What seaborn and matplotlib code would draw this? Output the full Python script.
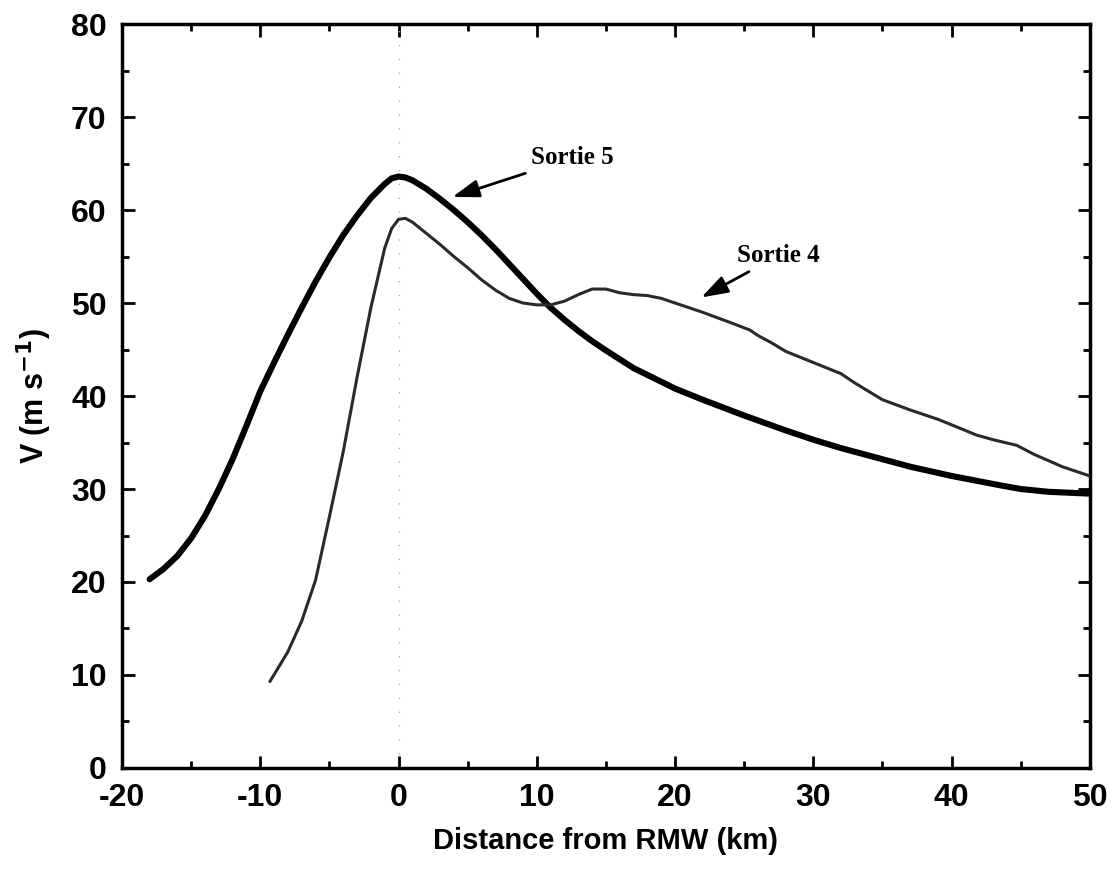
import matplotlib
matplotlib.use("Agg")
import matplotlib.pyplot as plt
import seaborn as sns
import pandas as pd

# Sortie 5 (thick line)
s5_x = [-18, -17, -16, -15, -14, -13, -12, -11, -10, -9, -8, -7, -6, -5, -4, -3, -2, -1, -0.5, 0, 0.5,
        1, 2, 3, 4, 5, 6, 7, 8, 9, 10, 11, 12, 13, 14, 15, 17, 20, 22, 25, 28, 30, 32, 35, 37, 40, 43.5, 45, 47, 50]
s5_v = [20.3, 21.4, 22.8, 24.7, 27.1, 30.0, 33.2, 36.8, 40.5, 43.6, 46.6, 49.5, 52.3, 54.9, 57.3, 59.4, 61.3, 62.8, 63.4, 63.6, 63.5,
        63.2, 62.3, 61.2, 60.0, 58.7, 57.3, 55.8, 54.2, 52.6, 51.0, 49.5, 48.2, 47.0, 45.9, 44.9, 43.0, 40.8, 39.6, 37.9, 36.3, 35.3, 34.4, 33.2, 32.4, 31.4, 30.4, 30.0, 29.7, 29.5]

# Sortie 4 (thin line)
s4_x = [-9.3, -8, -7, -6, -5, -4, -3, -2, -1, -0.5, 0, 0.5, 1, 2, 3, 4, 5, 6, 7, 8, 9, 10, 11, 12, 13, 14,
        15, 16, 17, 18, 19, 20, 22, 24, 25.4, 26, 27, 28, 30, 32, 33, 35, 37, 39, 40, 41.8, 43, 44.7, 46, 48, 50]
s4_v = [9.3, 12.5, 15.8, 20.2, 27.0, 34.0, 42.0, 49.5, 55.9, 58.0, 59.0, 59.1, 58.7, 57.5, 56.3, 55.0, 53.8, 52.5, 51.4, 50.5, 50.0, 49.8, 49.8, 50.2, 50.9, 51.5,
        51.5, 51.1, 50.9, 50.8, 50.5, 50.0, 49.0, 47.9, 47.1, 46.5, 45.7, 44.8, 43.6, 42.4, 41.4, 39.6, 38.5, 37.5, 36.9, 35.8, 35.3, 34.7, 33.7, 32.4, 31.4]

x_ticks = [-20, -10, 0, 10, 20, 30, 40, 50]
y_ticks = [0, 10, 20, 30, 40, 50, 60, 70, 80]

sns.set_style("ticks", {"text.color": "black", "axes.labelcolor": "black",
                        "xtick.color": "black", "ytick.color": "black", "axes.edgecolor": "black"})
plt.rcParams['font.family'] = ['Liberation Sans', 'DejaVu Sans']

fig = plt.figure(figsize=(11.19, 8.77), dpi=100)
ax = fig.add_axes([0.109, 0.1243, 0.865, 0.8483])

df5 = pd.DataFrame({"x": s5_x, "v": s5_v})
df4 = pd.DataFrame({"x": s4_x, "v": s4_v})

ax.axvline(0, color="#aaaaaa", lw=1.0, ls=(0, (1, 9)), zorder=1)
sns.lineplot(data=df5, x="x", y="v", ax=ax, color="black", lw=4.4, sort=False,
             solid_capstyle="round", solid_joinstyle="round", zorder=3)
sns.lineplot(data=df4, x="x", y="v", ax=ax, color="#2a2a2a", lw=2.2, sort=False,
             solid_joinstyle="round", zorder=3)

ax.set_xlim(-20, 50)
ax.set_ylim(0, 80)
ax.set_xticks(x_ticks)
ax.set_yticks(y_ticks)
ax.set_xticks(range(-15, 50, 10), minor=True)
ax.set_yticks(range(5, 80, 10), minor=True)
ax.set_xticklabels([str(t) for t in x_ticks])
ax.set_yticklabels([str(t) for t in y_ticks])
ax.tick_params(which="both", direction="in", top=True, right=True, width=2.0, color="black",
               labelcolor="black")
ax.tick_params(which="major", length=9, labelsize=23, pad=11)
ax.tick_params(which="minor", length=5)
for lab in ax.get_xticklabels() + ax.get_yticklabels():
    lab.set_fontweight("bold")
for sp in ax.spines.values():
    sp.set_linewidth(2.5)
    sp.set_color("black")

ax.set_xlabel("Distance from RMW (km)", fontsize=21, fontweight="bold", labelpad=10, color="black")
ax.set_ylabel("V (m s$^{\\mathbf{-1}}$)", fontsize=22, fontweight="bold", labelpad=12, color="black")

ax.annotate("Sortie 5", xy=(3.9, 61.4), xytext=(9.6, 65.6), color="black",
            fontsize=18, fontweight="bold", family="Liberation Serif", va="center", ha="left",
            arrowprops=dict(arrowstyle="-|>,head_length=0.9,head_width=0.3", color="black", lw=2,
                            shrinkA=2, shrinkB=0))
ax.annotate("Sortie 4", xy=(21.9, 50.6), xytext=(24.5, 55.1), color="black",
            fontsize=18, fontweight="bold", family="Liberation Serif", va="center", ha="left",
            arrowprops=dict(arrowstyle="-|>,head_length=0.9,head_width=0.3", color="black", lw=2,
                            shrinkA=2, shrinkB=0))

fig.savefig("out.png", dpi=100)
